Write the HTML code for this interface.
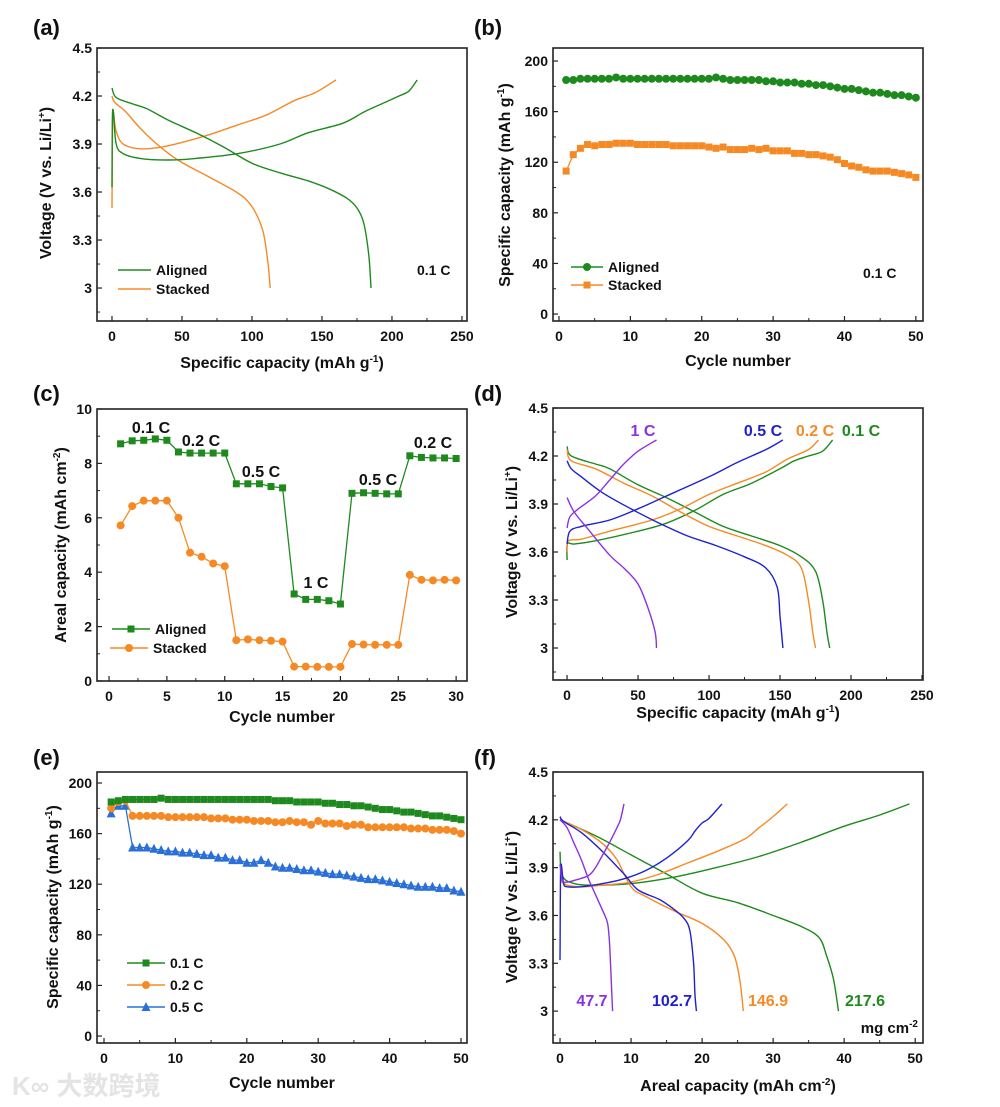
<!DOCTYPE html>
<html><head><meta charset="utf-8"><style>
html,body{margin:0;padding:0;background:#fff;}
svg{display:block;font-family:"Liberation Sans",Arial,sans-serif;}
</style></head><body>
<svg id="chart" width="1000" height="1107" viewBox="0 0 1000 1107" xmlns="http://www.w3.org/2000/svg">
<text x="12" y="1095" font-size="26" font-weight="bold" fill="#e4e4e4" font-family="'Liberation Sans','Noto Sans CJK SC',sans-serif">K∞ 大数跨境</text>
</svg>
<script>
const aAlignedChgX=[0,0.3,1,3,8,20,40,60,90,120,140,165,180,195,205,212,218];
const aAlignedChgY=[3.63,4.05,4.1,3.9,3.84,3.81,3.80,3.81,3.84,3.90,3.97,4.03,4.10,4.16,4.20,4.23,4.30];
const aAlignedDisX=[0,3,15,25,40,60,80,100,120,140,155,168,175,180,183.5,185];
const aAlignedDisY=[4.25,4.19,4.15,4.12,4.05,3.97,3.88,3.78,3.72,3.67,3.62,3.56,3.50,3.40,3.20,3.0];
const aStackChgX=[0,0.4,1,3,8,20,35,50,70,90,110,130,145,160];
const aStackChgY=[3.5,4.05,4.1,3.98,3.9,3.87,3.88,3.91,3.96,4.02,4.08,4.17,4.22,4.30];
const aStackDisX=[0,2,10,20,32,47,68,85,95,102,108,111.5,113];
const aStackDisY=[4.2,4.16,4.1,4.0,3.9,3.8,3.7,3.62,3.56,3.48,3.35,3.15,3.0];

const bCycles=[1,2,3,4,5,6,7,8,9,10,11,12,13,14,15,16,17,18,19,20,21,22,23,24,25,26,27,28,29,30,31,32,33,34,35,36,37,38,39,40,41,42,43,44,45,46,47,48,49,50];
const bAligned=[185,185,186,186,186,186,186,187,186,186,186,186,186,186,186,186,186,186,186,186,186,187,186,185,185,185,185,185,184,184,183,183,183,182,182,181,181,180,179,178,178,177,176,175,175,174,173,173,172,171];
const bStacked=[113,126,131,134,133,134,134,135,135,135,134,134,134,134,134,133,133,133,133,133,132,131,132,130,130,130,131,130,131,129,129,129,127,127,126,126,125,124,122,119,117,116,114,113,113,113,112,111,110,108];

const cCycles=[1,2,3,4,5,6,7,8,9,10,11,12,13,14,15,16,17,18,19,20,21,22,23,24,25,26,27,28,29,30];
const cAligned=[8.72,8.83,8.85,8.9,8.85,8.42,8.38,8.38,8.38,8.38,7.25,7.25,7.25,7.15,7.1,3.2,3.0,3.0,2.95,2.83,6.9,6.92,6.9,6.88,6.88,8.28,8.22,8.2,8.2,8.18];
const cStacked=[5.72,6.43,6.63,6.63,6.63,6.0,4.72,4.57,4.32,4.22,1.5,1.53,1.5,1.48,1.45,0.53,0.53,0.52,0.52,0.52,1.36,1.34,1.33,1.33,1.33,3.9,3.72,3.7,3.72,3.7];

const d01ChgX=[0,0.3,5,20,50,70,90,110,130,150,160,170,180,187];
const d01ChgY=[3.55,3.65,3.65,3.67,3.73,3.78,3.86,3.96,4.03,4.12,4.17,4.2,4.23,4.3];
const d01DisX=[0,3,20,30,50,70,90,110,130,150,165,175,180,183,185];
const d01DisY=[4.26,4.2,4.15,4.12,4.02,3.94,3.85,3.76,3.7,3.64,3.57,3.48,3.3,3.1,3.0];
const d02ChgX=[0,1,10,30,60,80,100,120,140,155,170,177];
const d02ChgY=[3.6,3.67,3.68,3.73,3.8,3.87,3.96,4.03,4.1,4.18,4.24,4.3];
const d02DisX=[0,3,20,40,60,80,100,120,140,155,165,170,173,175];
const d02DisY=[4.24,4.17,4.12,4.03,3.95,3.85,3.76,3.7,3.64,3.58,3.5,3.3,3.1,3.0];
const d05ChgX=[0,2,10,30,50,70,100,120,140,152];
const d05ChgY=[3.65,3.73,3.76,3.8,3.87,3.95,4.07,4.16,4.24,4.3];
const d05DisX=[0,3,10,25,45,65,85,105,125,140,148,150,152];
const d05DisY=[4.17,4.12,4.07,3.97,3.87,3.78,3.7,3.64,3.57,3.5,3.38,3.2,3.0];
const d1ChgX=[0,2,8,20,30,40,50,63];
const d1ChgY=[3.75,3.82,3.87,3.95,4.05,4.15,4.23,4.3];
const d1DisX=[0,5,15,30,40,50,57,62,63];
const d1DisY=[3.94,3.85,3.74,3.58,3.5,3.4,3.25,3.1,3.0];

const eCycles=[1,2,3,4,5,6,7,8,9,10,11,12,13,14,15,16,17,18,19,20,21,22,23,24,25,26,27,28,29,30,31,32,33,34,35,36,37,38,39,40,41,42,43,44,45,46,47,48,49,50];
const e01=[185,186,187,187,187,187,187,188,187,187,187,187,187,187,187,187,187,187,187,187,187,187,187,186,186,186,185,185,185,185,184,184,183,183,182,182,181,180,179,179,178,177,177,176,175,174,174,173,172,171];
const e02=[180,185,186,174,174,174,174,174,173,173,173,173,173,173,172,172,172,171,171,171,170,170,170,169,169,170,169,169,167,170,168,168,168,166,167,167,165,165,165,165,165,165,164,164,164,163,163,163,162,160];
const e05=[176,182,182,149,149,149,148,147,146,146,145,145,144,143,143,141,141,139,139,137,137,139,137,134,133,133,132,131,131,130,129,128,128,127,126,125,124,124,123,122,121,120,119,118,118,118,117,117,115,114];

const fPChgX=[0,0.3,1,2,4,5,6,7,8,8.5,9];
const fPChgY=[3.92,3.82,3.81,3.82,3.85,3.9,3.98,4.06,4.15,4.2,4.3];
const fPDisX=[0,1,2,3,4,5,6,6.7,7,7.2,7.4];
const fPDisY=[4.2,4.15,4.05,3.95,3.83,3.73,3.63,3.55,3.4,3.2,3.0];
const fBChgX=[0,0.1,0.5,1,3,6,9,12,15,18,19,20,21,22.8];
const fBChgY=[3.32,3.9,3.8,3.78,3.78,3.8,3.83,3.88,3.96,4.07,4.13,4.18,4.21,4.3];
const fBDisX=[0,0.5,3,6,9,11,14,16,17.5,18.3,18.8,19,19.2];
const fBDisY=[4.22,4.19,4.12,4.0,3.86,3.76,3.7,3.64,3.58,3.5,3.3,3.1,3.0];
const fOChgX=[0,1,3,6,10,14,18,22,26,28,30,32];
const fOChgY=[3.82,3.79,3.78,3.79,3.81,3.86,3.93,4.0,4.08,4.15,4.22,4.3];
const fODisX=[0,3,6,8,10,12,16,20,23,24.5,25.3,25.8];
const fODisY=[4.2,4.14,4.05,3.95,3.78,3.72,3.63,3.55,3.45,3.35,3.2,3.0];
const fGChgX=[0,0.3,2,5,10,16,22,28,34,40,45,49.2];
const fGChgY=[4.0,3.85,3.8,3.79,3.8,3.84,3.9,3.97,4.06,4.16,4.23,4.3];
const fGDisX=[0,5,10,15,20,25,30,34,36.5,37.5,38.5,39.2];
const fGDisY=[4.2,4.1,3.98,3.86,3.74,3.68,3.6,3.53,3.46,3.35,3.2,3.0];

const vTicks=[3,3.3,3.6,3.9,4.2,4.5];
const vLabels=['3','3.3','3.6','3.9','4.2','4.5'];
const vMinor=[2.85,3.15,3.45,3.75,4.05,4.35];
const capTicks=[0,50,100,150,200,250];
const capLabels=['0','50','100','150','200','250'];
const capMinor=[25,75,125,175,225];
const cyc50Ticks=[0,10,20,30,40,50];
const cyc50Labels=['0','10','20','30','40','50'];
const cyc50Minor=[5,15,25,35,45];
const spTicks=[0,40,80,120,160,200];
const spLabels=['0','40','80','120','160','200'];
const spMinor=[20,60,100,140,180];
const cyc30Ticks=[0,5,10,15,20,25,30];
const cyc30Labels=['0','5','10','15','20','25','30'];
const cyc30Minor=[2.5,7.5,12.5,17.5,22.5,27.5];
const arTicks=[0,2,4,6,8,10];
const arLabels=['0','2','4','6','8','10'];
const arMinor=[1,3,5,7,9];
const fxTicks=[0,10,20,30,40,50];
const fxLabels=['0','10','20','30','40','50'];
const fxMinor=[5,15,25,35,45];

const GREEN='#1e8a1e', ORANGE='#f58a25', BLUE='#2020d0', PURPLE='#8a32e0', BLUE2='#2a70d8';

const NS='http://www.w3.org/2000/svg';
const svg=document.getElementById('chart');
function el(tag,attrs,parent){const e=document.createElementNS(NS,tag);for(const k in attrs)e.setAttribute(k,attrs[k]);(parent||svg).appendChild(e);return e;}

function panel(name,f,xd,yd,xt,xl,xm,yt,yl,ym){
  const g=el('g',{});
  
  
  const sx=v=>f.x0+(v-xd[0])/(xd[1]-xd[0])*(f.x1-f.x0);
  const sy=v=>f.y1-(v-yd[0])/(yd[1]-yd[0])*(f.y1-f.y0);
  const fr=el('rect',{x:f.x0,y:f.y0,width:f.x1-f.x0,height:f.y1-f.y0,fill:'none',stroke:'#222','stroke-width':1.6},g);
  
  
  xt.forEach((v,i)=>{
    el('line',{x1:sx(v),x2:sx(v),y1:f.y1,y2:f.y1-5,stroke:'#222','stroke-width':1.2},g);
    const t=el('text',{x:sx(v),y:f.y1+20,'text-anchor':'middle','font-size':14,'font-weight':'bold',fill:'#111'},g);
    t.textContent=xl[i];
    
    
  });
  xm.forEach(v=>el('line',{x1:sx(v),x2:sx(v),y1:f.y1,y2:f.y1-3,stroke:'#222','stroke-width':1},g));
  yt.forEach((v,i)=>{
    el('line',{x1:f.x0,x2:f.x0+5,y1:sy(v),y2:sy(v),stroke:'#222','stroke-width':1.2},g);
    const t=el('text',{x:f.x0-5,y:sy(v)+5,'text-anchor':'end','font-size':14,'font-weight':'bold',fill:'#111'},g);
    t.textContent=yl[i];
    
    
  });
  ym.forEach(v=>el('line',{x1:f.x0,x2:f.x0+3,y1:sy(v),y2:sy(v),stroke:'#222','stroke-width':1},g));
  return {g,sx,sy};
}
function smooth(P,xs,ys){
  const p=xs.map((x,i)=>[P.sx(x),P.sy(ys[i])]);
  let d='M'+p[0][0].toFixed(1)+','+p[0][1].toFixed(1);
  for(let i=0;i<p.length-1;i++){
    const p0=p[Math.max(0,i-1)],p1=p[i],p2=p[i+1],p3=p[Math.min(p.length-1,i+2)];
    const c1=[p1[0]+(p2[0]-p0[0])/6,p1[1]+(p2[1]-p0[1])/6];
    const c2=[p2[0]-(p3[0]-p1[0])/6,p2[1]-(p3[1]-p1[1])/6];
    d+=' C'+c1.map(n=>n.toFixed(1)).join(',')+' '+c2.map(n=>n.toFixed(1)).join(',')+' '+p2[0].toFixed(1)+','+p2[1].toFixed(1);
  }
  return d;
}
function curve(P,xs,ys,color,name){
  const e=el('path',{d:smooth(P,xs,ys),fill:'none',stroke:color,'stroke-width':1.4},P.g);
  
  
}
function marker(g,x,y,shape,color,s){
  if(shape==='sq') return el('rect',{x:x-s,y:y-s,width:2*s,height:2*s,fill:color},g);
  if(shape==='ci') return el('circle',{cx:x,cy:y,r:s,fill:color},g);
  return el('polygon',{points:`${x},${y-s-1} ${x-s-0.5},${y+s} ${x+s+0.5},${y+s}`,fill:color},g);
}
function series(P,xs,ys,color,shape,s,name){
  const pts=xs.map((x,i)=>P.sx(x).toFixed(1)+','+P.sy(ys[i]).toFixed(1)).join(' ');
  const l=el('polyline',{points:pts,fill:'none',stroke:color,'stroke-width':1.3},P.g);
  
  
  xs.forEach((x,i)=>{
    const m=marker(P.g,P.sx(x),P.sy(ys[i]),shape,color,s);
    
    
  });
}
function txt(x,y,s,opts,name){
  const t=el('text',Object.assign({x:x,y:y,'font-weight':'bold',fill:'#111','font-size':15},opts||{}));
  t.innerHTML=s;
  
  
  return t;
}
function ytitle(x,y,s,name){return txt(x,y,s,{'text-anchor':'middle','font-size':16,transform:`rotate(-90 ${x} ${y})`},name);}
function legLine(x1,x2,y,color,shape,s,label,name){
  const l=el('line',{x1:x1,x2:x2,y1:y,y2:y,stroke:color,'stroke-width':1.4});
  
  
  if(shape){
    const m=marker(svg,(x1+x2)/2,y,shape,color,s);
    
    
  }
  txt(x2+5,y+5,label,{'font-size':14},name);
}
function sup(s,after){return '<tspan dy="-6" font-size="10">'+s+'</tspan><tspan dy="6">'+(after||'\u200b')+'</tspan>';}

[['(a)',33,35],['(b)',474,35],['(c)',33,401],['(d)',474,401],['(e)',33,765],['(f)',474,765]].forEach(p=>txt(p[1],p[2],p[0],{'font-size':22},'panel-label'));

// (a)
const A=panel('panel-a',{x0:97,x1:467,y0:48,y1:321},[-10.7,253.6],[2.794,4.5],capTicks,capLabels,capMinor,vTicks,vLabels,vMinor);
curve(A,aStackChgX,aStackChgY,ORANGE,'stacked-charge-curve');
curve(A,aStackDisX,aStackDisY,ORANGE,'stacked-discharge-curve');
curve(A,aAlignedChgX,aAlignedChgY,GREEN,'aligned-charge-curve');
curve(A,aAlignedDisX,aAlignedDisY,GREEN,'aligned-discharge-curve');
legLine(118,151,270,GREEN,null,0,'Aligned','legend-aligned');
legLine(118,151,289,ORANGE,null,0,'Stacked','legend-stacked');
txt(417,275,'0.1 C',{'font-size':14},'rate-label');
txt(282,368,'Specific capacity (mAh g'+sup('-1',')'),{'text-anchor':'middle','font-size':16},'x-axis-title');
ytitle(51,183,'Voltage (V vs. Li/Li'+sup('+',')'),'y-axis-title');

// (b)
const B=panel('panel-b',{x0:553,x1:923,y0:48,y1:321},[-0.84,51],[-5.5,210.3],cyc50Ticks,cyc50Labels,cyc50Minor,spTicks,spLabels,spMinor);
series(B,bCycles,bStacked,ORANGE,'sq',3.5,'stacked');
series(B,bCycles,bAligned,GREEN,'ci',4,'aligned');
legLine(571,603,267,GREEN,'ci',4,'Aligned','legend-aligned');
legLine(571,603,285,ORANGE,'sq',3.5,'Stacked','legend-stacked');
txt(863,278,'0.1 C',{'font-size':14},'rate-label');
txt(738,366,'Cycle number',{'text-anchor':'middle','font-size':16},'x-axis-title');
ytitle(510,185,'Specific capacity (mAh g'+sup('-1',')'),'y-axis-title');

// (c)
const C=panel('panel-c',{x0:97,x1:467,y0:409,y1:681},[-1.04,30.94],[0,10],cyc30Ticks,cyc30Labels,cyc30Minor,arTicks,arLabels,arMinor);
series(C,cCycles,cStacked,ORANGE,'ci',4,'stacked');
series(C,cCycles,cAligned,GREEN,'sq',3.5,'aligned');
legLine(112,150,629,GREEN,'sq',3.5,'Aligned','legend-aligned');
legLine(110,148,648,ORANGE,'ci',4,'Stacked','legend-stacked');
[['0.1 C',151,433],['0.2 C',201,446],['0.5 C',261,477],['1 C',316,588],['0.5 C',378,485],['0.2 C',433,448]].forEach(l=>txt(l[1],l[2],l[0],{'text-anchor':'middle','font-size':16},'rate-label'));
txt(282,722,'Cycle number',{'text-anchor':'middle','font-size':16},'x-axis-title');
ytitle(66,545,'Areal capacity (mAh cm'+sup('-2',')'),'y-axis-title');

// (d)
const D=panel('panel-d',{x0:553,x1:923,y0:408,y1:680},[-9.9,250.7],[2.8,4.5],capTicks,capLabels,capMinor,vTicks,vLabels,vMinor);
curve(D,d01ChgX,d01ChgY,GREEN,'0.1C-charge-curve');
curve(D,d01DisX,d01DisY,GREEN,'0.1C-discharge-curve');
curve(D,d02ChgX,d02ChgY,ORANGE,'0.2C-charge-curve');
curve(D,d02DisX,d02DisY,ORANGE,'0.2C-discharge-curve');
curve(D,d05ChgX,d05ChgY,BLUE,'0.5C-charge-curve');
curve(D,d05DisX,d05DisY,BLUE,'0.5C-discharge-curve');
curve(D,d1ChgX,d1ChgY,PURPLE,'1C-charge-curve');
curve(D,d1DisX,d1DisY,PURPLE,'1C-discharge-curve');
[['1 C',643,PURPLE],['0.5 C',763,BLUE],['0.2 C',815,ORANGE],['0.1 C',861,GREEN]].forEach(l=>txt(l[1],436,l[0],{'text-anchor':'middle','font-size':16,fill:l[2]},'rate-label'));
txt(738,718,'Specific capacity (mAh g'+sup('-1',')'),{'text-anchor':'middle','font-size':16},'x-axis-title');
ytitle(517,542,'Voltage (V vs. Li/Li'+sup('+',')'),'y-axis-title');

// (e)
const E=panel('panel-e',{x0:97,x1:467,y0:772,y1:1043},[-0.98,50.84],[-5.5,208.7],cyc50Ticks,cyc50Labels,cyc50Minor,spTicks,spLabels,spMinor);
series(E,eCycles,e05,BLUE2,'tr',4,'0.5C');
series(E,eCycles,e02,ORANGE,'ci',4,'0.2C');
series(E,eCycles,e01,GREEN,'sq',3.5,'0.1C');
legLine(127,165,963,GREEN,'sq',3.5,'0.1 C','legend-0.1C');
legLine(127,165,985,ORANGE,'ci',4,'0.2 C','legend-0.2C');
legLine(127,165,1007,BLUE2,'tr',4,'0.5 C','legend-0.5C');
txt(282,1088,'Cycle number',{'text-anchor':'middle','font-size':16},'x-axis-title');
ytitle(58,907,'Specific capacity (mAh g'+sup('-1',')'),'y-axis-title');

// (f)
const F=panel('panel-f',{x0:553,x1:923,y0:772,y1:1043},[-0.99,51.1],[2.8,4.5],fxTicks,fxLabels,fxMinor,vTicks,vLabels,vMinor);
curve(F,fGChgX,fGChgY,GREEN,'217.6-charge-curve');
curve(F,fGDisX,fGDisY,GREEN,'217.6-discharge-curve');
curve(F,fOChgX,fOChgY,ORANGE,'146.9-charge-curve');
curve(F,fODisX,fODisY,ORANGE,'146.9-discharge-curve');
curve(F,fBChgX,fBChgY,BLUE,'102.7-charge-curve');
curve(F,fBDisX,fBDisY,BLUE,'102.7-discharge-curve');
curve(F,fPChgX,fPChgY,PURPLE,'47.7-charge-curve');
curve(F,fPDisX,fPDisY,PURPLE,'47.7-discharge-curve');
[['47.7',592,PURPLE],['102.7',672,BLUE],['146.9',768,ORANGE],['217.6',865,GREEN]].forEach(l=>txt(l[1],1006,l[0],{'text-anchor':'middle','font-size':16,fill:l[2]},'loading-label'));
txt(918,1033,'mg cm<tspan dy="-6" font-size="10">-2</tspan>',{'text-anchor':'end','font-size':15},'loading-unit');
txt(738,1091,'Areal capacity (mAh cm'+sup('-2',')'),{'text-anchor':'middle','font-size':16},'x-axis-title');
ytitle(517,907,'Voltage (V vs. Li/Li'+sup('+',')'),'y-axis-title');
</script>
</body></html>
